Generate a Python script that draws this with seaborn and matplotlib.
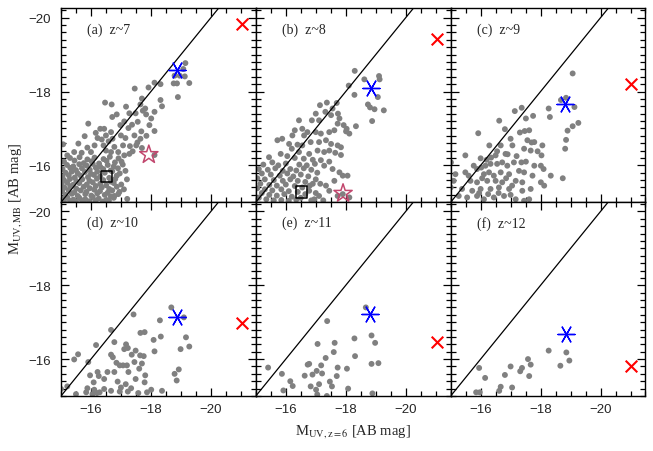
import numpy as np
import pandas as pd
import matplotlib
matplotlib.use("Agg")
import matplotlib.pyplot as plt
from matplotlib.ticker import MultipleLocator
import seaborn as sns

# ---- data: M_UV(z=6) vs M_UV(MB) per redshift bin ----
panel_labels = ["(a)  z~7", "(b)  z~8", "(c)  z~9", "(d)  z~10", "(e)  z~11", "(f)  z~12"]

pts_a = [
    (-19.15, -18.77), (-19.08, -18.61), (-18.79, -18.43), (-18.96, -18.43), (-19.13, -18.41),
    (-18.76, -18.22), (-18.87, -18.22), (-19.28, -18.23), (-18.90, -17.85), (-18.12, -18.24),
    (-18.32, -18.20), (-17.46, -18.08), (-17.92, -18.11), (-17.70, -17.81), (-17.65, -17.65),
    (-16.47, -17.70), (-16.69, -17.65), (-18.32, -17.77), (-18.37, -17.60), (-17.81, -17.54),
    (-17.73, -17.48), (-18.12, -17.45), (-18.01, -17.27), (-16.86, -17.38), (-16.71, -17.31),
    (-17.17, -17.59), (-17.28, -17.41), (-17.49, -17.41), (-17.11, -17.19), (-17.37, -17.10),
    (-15.91, -17.13), (-16.31, -16.99), (-16.44, -16.99), (-16.98, -17.09), (-17.25, -17.01),
    (-17.56, -17.18), (-17.84, -17.38), (-17.95, -17.09), (-17.68, -16.92), (-18.12, -16.93),
    (-16.50, -16.81), (-16.16, -16.88), (-15.79, -16.79), (-16.22, -16.74), (-16.36, -16.70),
    (-16.59, -16.65), (-16.72, -16.72), (-17.00, -16.81), (-17.15, -16.74), (-17.45, -16.81),
    (-17.65, -16.72), (-16.67, -16.90), (-15.58, -16.59), (-15.07, -16.57), (-15.88, -16.48),
    (-16.12, -16.54), (-16.42, -16.54), (-16.78, -16.50), (-17.07, -16.54), (-17.30, -16.52),
    (-17.51, -16.54), (-17.70, -16.47), (-18.12, -16.28), (-17.39, -16.38), (-17.28, -16.31),
    (-17.11, -16.27), (-16.91, -16.36), (-16.67, -16.36), (-16.50, -16.40), (-16.00, -16.36),
    (-15.69, -16.34), (-15.44, -16.36), (-15.21, -16.27), (-17.55, -16.62), (-17.85, -16.80),
    (-15.30, -16.20), (-15.62, -16.22), (-15.88, -16.16), (-16.12, -16.21), (-16.42, -16.17),
    (-16.63, -16.23), (-16.92, -16.19), (-15.10, -16.10), (-15.45, -16.13), (-15.76, -16.06),
    (-16.02, -16.11), (-16.27, -16.05), (-16.52, -16.12), (-16.80, -16.08), (-17.02, -16.10),
    (-15.20, -16.01), (-15.41, -15.97), (-15.61, -16.03), (-15.86, -15.99), (-16.06, -16.04),
    (-16.31, -15.96), (-16.56, -16.01), (-16.76, -15.97), (-17.06, -16.02), (-15.05, -15.90),
    (-15.31, -15.93), (-15.50, -15.87), (-15.70, -15.92), (-15.96, -15.88), (-16.16, -15.94),
    (-16.41, -15.90), (-16.66, -15.86), (-16.90, -15.92), (-15.15, -15.80), (-15.36, -15.83),
    (-15.56, -15.78), (-15.80, -15.82), (-16.00, -15.77), (-16.21, -15.83), (-16.46, -15.80),
    (-16.71, -15.84), (-16.96, -15.78), (-15.05, -15.70), (-15.26, -15.73), (-15.46, -15.67),
    (-15.66, -15.72), (-15.90, -15.68), (-16.10, -15.74), (-16.31, -15.70), (-16.61, -15.66),
    (-16.86, -15.72), (-15.10, -15.60), (-15.30, -15.63), (-15.51, -15.57), (-15.71, -15.62),
    (-15.95, -15.58), (-16.20, -15.64), (-16.41, -15.60), (-16.66, -15.56), (-16.81, -15.63),
    (-15.02, -15.50), (-15.21, -15.53), (-15.40, -15.47), (-15.61, -15.52), (-15.86, -15.48),
    (-16.06, -15.54), (-16.31, -15.50), (-16.51, -15.46), (-16.76, -15.52), (-17.01, -15.48),
    (-15.11, -15.40), (-15.31, -15.43), (-15.51, -15.37), (-15.76, -15.42), (-15.96, -15.38),
    (-16.16, -15.44), (-16.36, -15.40), (-16.61, -15.36), (-16.86, -15.42), (-15.04, -15.30),
    (-15.25, -15.33), (-15.45, -15.27), (-15.66, -15.32), (-15.85, -15.28), (-16.11, -15.34),
    (-16.30, -15.30), (-16.56, -15.26), (-16.71, -15.32), (-16.95, -15.28), (-15.15, -15.20),
    (-15.36, -15.23), (-15.56, -15.17), (-15.81, -15.22), (-16.01, -15.18), (-16.21, -15.24),
    (-16.46, -15.20), (-16.66, -15.16), (-16.91, -15.22), (-15.02, -15.10), (-15.21, -15.13),
    (-15.41, -15.07), (-15.61, -15.12), (-15.81, -15.08), (-16.06, -15.14), (-16.26, -15.10),
    (-16.51, -15.06), (-16.76, -15.12), (-17.21, -15.09), (-15.10, -15.03), (-15.30, -15.04),
    (-15.50, -15.02), (-15.70, -15.05), (-15.95, -15.03), (-16.15, -15.04), (-16.40, -15.02),
    (-16.60, -15.05), (-16.78, -15.17), (-17.10, -15.35), (-17.20, -15.62), (-17.15, -15.85),
]

pts_b = [
    (-18.30, -18.56), (-18.62, -18.33), (-19.11, -18.42), (-19.13, -18.33), (-18.10, -18.16),
    (-18.29, -17.91), (-19.07, -17.85), (-18.74, -17.65), (-18.81, -17.57), (-18.96, -17.52),
    (-19.27, -17.49), (-18.88, -17.20), (-18.34, -17.06), (-18.01, -16.92), (-18.12, -16.86),
    (-17.37, -17.70), (-17.14, -17.63), (-17.70, -17.69), (-17.56, -17.54), (-17.74, -17.40),
    (-17.79, -17.27), (-17.73, -17.13), (-17.51, -17.36), (-17.32, -17.45), (-17.00, -17.40),
    (-17.11, -17.22), (-16.87, -17.22), (-16.44, -17.22), (-16.55, -16.99), (-16.22, -16.81),
    (-16.30, -16.95), (-16.72, -16.90), (-17.00, -16.90), (-17.17, -16.86), (-17.45, -16.90),
    (-17.62, -16.95), (-17.93, -17.09), (-18.03, -16.99), (-16.61, -16.81), (-15.88, -16.72),
    (-15.72, -16.68), (-16.11, -16.58), (-16.39, -16.56), (-16.55, -16.54), (-16.83, -16.63),
    (-17.11, -16.63), (-17.34, -16.68), (-17.51, -16.58), (-17.73, -16.54), (-17.84, -16.49),
    (-15.83, -16.31), (-15.44, -16.22), (-15.55, -16.08), (-16.44, -16.36), (-16.78, -16.31),
    (-17.06, -16.40), (-17.28, -16.36), (-17.45, -16.40), (-17.65, -16.34), (-17.84, -16.28),
    (-17.17, -16.14), (-17.45, -16.10), (-16.97, -16.04), (-17.28, -15.99), (-17.56, -15.90),
    (-17.79, -15.81), (-17.90, -15.72), (-18.06, -15.72), (-17.62, -15.58), (-17.34, -15.45),
    (-17.45, -15.31), (-17.73, -15.17), (-18.12, -15.13), (-17.11, -15.17), (-16.95, -15.08),
    (-16.78, -15.31), (-17.90, -15.22), (-16.20, -16.45), (-16.05, -16.25), (-16.30, -16.20),
    (-16.60, -16.18), (-16.90, -16.15), (-15.25, -16.02), (-15.75, -16.00), (-16.00, -16.05),
    (-16.45, -16.02), (-16.70, -16.00), (-15.10, -15.90), (-15.40, -15.88), (-15.65, -15.92),
    (-15.90, -15.85), (-16.15, -15.90), (-16.35, -15.86), (-16.60, -15.92), (-16.85, -15.88),
    (-17.05, -15.80), (-15.20, -15.78), (-15.50, -15.75), (-15.80, -15.72), (-16.05, -15.78),
    (-16.25, -15.70), (-16.50, -15.75), (-16.75, -15.70), (-17.00, -15.62), (-15.05, -15.65),
    (-15.30, -15.62), (-15.60, -15.60), (-15.90, -15.58), (-16.15, -15.62), (-16.40, -15.58),
    (-16.65, -15.55), (-16.90, -15.50), (-17.15, -15.50), (-15.15, -15.50), (-15.45, -15.47),
    (-15.70, -15.45), (-16.00, -15.48), (-16.30, -15.44), (-16.55, -15.40), (-16.80, -15.45),
    (-15.05, -15.38), (-15.30, -15.35), (-15.55, -15.32), (-15.85, -15.35), (-16.10, -15.30),
    (-16.40, -15.28), (-16.65, -15.22), (-17.00, -15.25), (-15.20, -15.25), (-15.45, -15.20),
    (-15.70, -15.18), (-15.95, -15.22), (-16.20, -15.15), (-16.50, -15.12), (-15.10, -15.12),
    (-15.35, -15.08), (-15.60, -15.05), (-15.85, -15.06), (-16.10, -15.04), (-16.35, -15.07),
    (-16.85, -15.05), (-17.25, -15.05),
]

pts_c = [
    (-19.07, -18.49), (-18.85, -17.83), (-18.68, -17.77), (-19.13, -17.58), (-18.27, -17.54),
    (-18.31, -17.31), (-19.26, -17.15), (-19.07, -17.06), (-18.90, -16.94), (-18.85, -16.69),
    (-18.82, -16.45), (-18.74, -15.65), (-17.14, -17.47), (-17.37, -17.56), (-17.75, -17.34),
    (-16.62, -17.21), (-17.51, -17.27), (-16.81, -16.98), (-17.31, -16.89), (-17.47, -16.93),
    (-17.62, -16.95), (-15.92, -16.87), (-17.00, -16.72), (-17.56, -16.68), (-17.70, -16.62),
    (-17.79, -16.63), (-16.29, -16.54), (-16.67, -16.54), (-17.06, -16.54), (-18.06, -16.54),
    (-16.55, -16.38), (-16.83, -16.31), (-16.50, -16.27), (-17.45, -16.45), (-17.67, -16.40),
    (-17.90, -16.38), (-18.03, -16.27), (-15.49, -16.27), (-16.00, -16.19), (-16.20, -16.15),
    (-16.35, -16.21), (-17.11, -16.08), (-17.36, -16.08), (-17.51, -16.10), (-17.79, -15.99),
    (-18.01, -15.99), (-18.10, -15.90), (-15.01, -16.08), (-15.77, -15.99), (-15.88, -15.90),
    (-16.02, -15.94), (-16.16, -15.99), (-16.33, -16.04), (-16.55, -16.04), (-16.72, -16.08),
    (-16.89, -15.99), (-15.49, -15.81), (-15.16, -15.76), (-15.60, -15.72), (-16.11, -15.76),
    (-16.28, -15.81), (-16.44, -15.72), (-16.67, -15.81), (-16.95, -15.76), (-17.28, -15.85),
    (-17.45, -15.81), (-17.73, -15.72), (-18.34, -15.72), (-15.10, -15.58), (-15.66, -15.58),
    (-15.88, -15.54), (-16.22, -15.58), (-16.50, -15.58), (-16.72, -15.54), (-17.17, -15.58),
    (-17.39, -15.54), (-18.01, -15.54), (-18.12, -15.45), (-15.00, -15.40), (-15.38, -15.36),
    (-15.72, -15.31), (-16.00, -15.36), (-16.33, -15.36), (-16.61, -15.40), (-16.95, -15.36),
    (-17.39, -15.31), (-17.67, -15.36), (-15.27, -15.17), (-15.55, -15.13), (-15.88, -15.17),
    (-16.11, -15.08), (-16.44, -15.13), (-16.78, -15.17), (-17.17, -15.08), (-17.45, -15.04),
    (-17.62, -15.08), (-16.90, -16.30), (-17.20, -16.25), (-16.05, -15.65), (-16.85, -15.65),
    (-17.05, -15.45), (-15.95, -15.25), (-16.25, -15.22), (-16.60, -15.25), (-17.00, -15.20),
]

pts_d = [
    (-18.68, -17.40), (-17.42, -17.21), (-18.30, -17.05), (-19.10, -17.13), (-16.67, -16.79),
    (-17.79, -16.73), (-17.65, -16.71), (-18.33, -16.61), (-19.17, -16.59), (-16.78, -16.46),
    (-18.09, -16.52), (-16.17, -16.38), (-17.17, -16.40), (-19.28, -16.34), (-17.23, -16.30),
    (-17.11, -16.27), (-17.49, -16.23), (-18.99, -16.27), (-15.57, -16.13), (-15.44, -15.99),
    (-16.67, -16.12), (-16.73, -16.05), (-17.36, -16.12), (-17.64, -16.10), (-17.76, -16.08),
    (-18.12, -16.21), (-15.91, -15.92), (-16.85, -15.90), (-16.96, -15.83), (-17.07, -15.83),
    (-17.20, -15.83), (-17.45, -15.92), (-17.70, -15.88), (-17.61, -15.74), (-18.93, -15.72),
    (-16.78, -15.65), (-17.25, -15.65), (-16.55, -15.65), (-16.22, -15.65), (-15.97, -15.56),
    (-16.26, -15.54), (-16.44, -15.46), (-17.49, -15.46), (-17.81, -15.56), (-18.79, -15.60),
    (-18.86, -15.42), (-16.89, -15.39), (-17.16, -15.32), (-16.09, -15.37), (-17.00, -15.23),
    (-17.34, -15.21), (-17.79, -15.37), (-15.88, -15.21), (-16.11, -15.17), (-16.29, -15.10),
    (-15.84, -15.10), (-16.44, -15.19), (-16.67, -15.14), (-16.96, -15.12), (-17.23, -15.12),
    (-17.58, -15.08), (-18.01, -15.17), (-18.37, -15.14), (-15.00, -15.19), (-15.21, -15.26),
    (-15.50, -15.05), (-17.87, -15.10), (-16.05, -15.05), (-16.20, -15.08),
]

pts_e = [
    (-18.67, -17.40), (-17.38, -17.03), (-18.29, -16.56), (-18.86, -16.64), (-18.98, -16.44),
    (-17.06, -16.41), (-17.63, -16.44), (-17.60, -16.19), (-18.31, -16.08), (-17.33, -16.03),
    (-18.86, -15.87), (-19.09, -15.89), (-16.78, -15.87), (-16.73, -15.85), (-17.18, -15.83),
    (-15.41, -15.77), (-17.73, -15.77), (-18.04, -15.74), (-17.03, -15.68), (-15.87, -15.60),
    (-16.63, -15.55), (-16.89, -15.58), (-17.21, -15.61), (-17.70, -15.54), (-16.15, -15.40),
    (-16.23, -15.27), (-17.11, -15.32), (-17.47, -15.39), (-16.83, -15.26), (-17.54, -15.26),
    (-15.92, -15.15), (-17.01, -15.17), (-18.08, -15.20), (-17.05, -15.04), (-17.37, -15.00),
    (-18.89, -15.07),
]

pts_f = [
    (-18.27, -16.23), (-18.86, -16.18), (-17.58, -16.00), (-18.96, -15.96), (-18.66, -15.82),
    (-17.67, -15.85), (-17.00, -15.80), (-17.38, -15.76), (-17.32, -15.67), (-15.95, -15.76),
    (-17.62, -15.54), (-16.81, -15.57), (-16.15, -15.49), (-16.67, -15.25), (-17.05, -15.23),
    (-16.62, -15.14), (-15.85, -15.10), (-15.97, -15.10),
]

# brightest object (blue asterisk) and red cross per panel
blue_x = [-18.87, -18.85, -18.81, -18.87, -18.82, -18.84]
blue_y = [-18.57, -18.09, -17.65, -17.15, -17.22, -16.67]
red_x = [-21.05, -21.03, -21.00, -21.05, -21.03, -21.00]
red_y = [-19.82, -19.41, -18.20, -16.99, -16.47, -15.80]

# extra markers in panels (a) and (b)
star_x = [-17.93, -17.91]
star_y = [-16.29, -15.24]
square_x = [-16.52, -16.52]
square_y = [-15.70, -15.27]

all_pts = [pts_a, pts_b, pts_c, pts_d, pts_e, pts_f]

sns.set_style("ticks")
plt.rcParams["font.family"] = ["Liberation Sans", "DejaVu Sans"]
plt.rcParams["mathtext.fontset"] = "stix"
plt.rcParams["xtick.direction"] = "in"
plt.rcParams["ytick.direction"] = "in"

fig, axes = plt.subplots(2, 3, figsize=(6.53, 4.52), dpi=100, sharex=True, sharey=True)
fig.subplots_adjust(left=0.0934, right=0.9885, top=0.979, bottom=0.1217, wspace=0, hspace=0)

gray = "#808080"
for i, ax in enumerate(axes.flat):
    df = pd.DataFrame(all_pts[i], columns=["x", "y"])
    sns.scatterplot(data=df, x="x", y="y", ax=ax, color=gray, s=18,
                    edgecolor="none", linewidth=0, zorder=2)
    ax.axline((-15, -15), slope=1, color="black", lw=0.9, zorder=3)

    if i < 2:
        ax.scatter(star_x[i], star_y[i], marker="*", s=190, facecolor="none",
                   edgecolor="#c2476e", linewidth=1.1, zorder=4)
        ax.scatter(square_x[i], square_y[i], marker="s", s=70, facecolor="none",
                   edgecolor="black", linewidth=1.1, zorder=4)
    ax.scatter(blue_x[i], blue_y[i], marker=(6, 2, 90), s=150, color="blue",
               linewidth=1.0, zorder=5)
    ax.scatter(red_x[i], red_y[i], marker="x", s=70, color="red",
               linewidth=1.5, zorder=5)

    ax.text(0.135, 0.895, panel_labels[i], transform=ax.transAxes, fontsize=10,
            family=["Liberation Serif"], va="center", ha="left")

    ax.set_xlim(-15, -21.5)
    ax.set_ylim(-15, -20.25)
    ax.xaxis.set_major_locator(MultipleLocator(2))
    ax.xaxis.set_minor_locator(MultipleLocator(0.5))
    ax.yaxis.set_major_locator(MultipleLocator(2))
    ax.yaxis.set_minor_locator(MultipleLocator(0.2))
    ax.tick_params(which="both", top=True, right=True, direction="in",
                   labelsize=9.5, width=0.9, color="black")
    ax.tick_params(which="major", length=6)
    ax.tick_params(which="minor", length=3.5)
    ax.tick_params(axis="y", pad=7)
    ax.tick_params(axis="x", pad=5)
    ax.set_xlabel("")
    ax.set_ylabel("")
    for sp in ax.spines.values():
        sp.set_linewidth(1.0)
        sp.set_color("black")

fig.text(0.54, 0.045, r"M$_{\rm UV,z=6}$ [AB mag]", ha="center", va="center",
         fontsize=10.5, family=["Liberation Serif"])
fig.text(0.024, 0.56, r"M$_{\rm UV,MB}$ [AB mag]", ha="center", va="center",
         rotation=90, fontsize=10.5, family=["Liberation Serif"])

fig.savefig("out.png", dpi=100)
